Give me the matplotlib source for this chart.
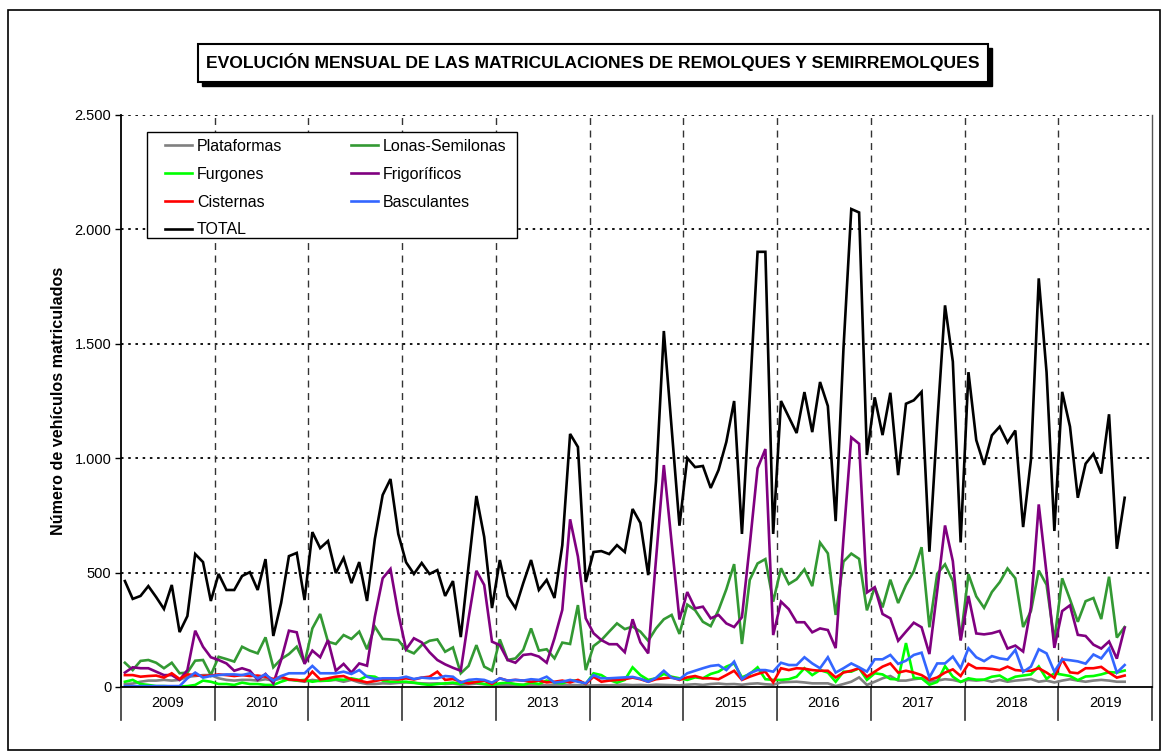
import numpy as np
import matplotlib
matplotlib.use("Agg")
import matplotlib.pyplot as plt
from matplotlib.patches import Rectangle

plt.rcParams['font.family'] = ['Liberation Sans', 'DejaVu Sans']

years = ['2009', '2010', '2011', '2012', '2013', '2014', '2015', '2016', '2017', '2018', '2019']

# monthly values, Jan 2009 .. Sep 2019
plataformas = [13, 15, 23, 28, 28, 31, 28, 31, 45, 48, 52, 52,
               38, 31, 28, 31, 31, 28, 34, 28, 38, 31, 28, 23,
               31, 26, 28, 31, 23, 31, 20, 13, 13, 16, 15, 18,
               20, 18, 16, 15, 16, 13, 15, 10, 12, 15, 12, 8,
               10, 8, 9, 10, 8, 9, 7, 8, 10, 9, 8, 6,
               7, 8, 7, 9, 10, 8, 9, 7, 10, 9, 8, 7,
               10, 12, 9, 13, 15, 12, 13, 10, 14, 16, 12, 10,
               20, 22, 23, 20, 16, 16, 16, 4, 13, 23, 42, 9,
               23, 38, 48, 28, 28, 34, 38, 23, 28, 34, 31, 23,
               31, 28, 31, 23, 31, 23, 28, 31, 35, 23, 28, 20,
               28, 34, 28, 23, 28, 31, 28, 23, 23]

lonas = [106, 74, 114, 118, 106, 82, 106, 60, 63, 115, 118, 52,
         132, 122, 111, 176, 159, 147, 217, 86, 122, 144, 176, 104,
         256, 319, 198, 188, 227, 210, 242, 165, 264, 210, 208, 205,
         162, 147, 183, 202, 208, 154, 173, 60, 92, 183, 89, 71,
         208, 118, 125, 162, 256, 159, 165, 125, 194, 188, 358, 74,
         179, 205, 242, 278, 253, 264, 242, 202, 256, 296, 315, 232,
         360, 336, 285, 266, 336, 427, 537, 188, 468, 540, 559, 373,
         519, 450, 471, 514, 441, 631, 584, 315, 548, 583, 560, 335,
         435, 348, 469, 367, 445, 506, 611, 261, 495, 536, 463, 208,
         493, 396, 346, 415, 458, 518, 475, 262, 332, 509, 447, 202,
         475, 383, 285, 375, 389, 297, 482, 216, 262]

furgones = [23, 31, 13, 9, 4, 4, 2, 2, 4, 9, 28, 23,
            13, 13, 9, 19, 13, 13, 9, 9, 23, 34, 28, 31,
            23, 28, 28, 34, 31, 38, 31, 48, 45, 28, 23, 23,
            23, 19, 13, 9, 13, 16, 19, 13, 23, 19, 13, 9,
            16, 19, 13, 9, 19, 13, 28, 19, 16, 28, 28, 13,
            60, 52, 31, 19, 31, 86, 52, 31, 38, 57, 45, 38,
            31, 42, 38, 57, 67, 89, 103, 42, 57, 86, 34, 31,
            31, 34, 45, 82, 52, 74, 63, 23, 67, 67, 82, 31,
            60, 55, 35, 33, 192, 40, 38, 10, 22, 91, 45, 22,
            38, 32, 32, 45, 50, 30, 45, 50, 55, 90, 36, 60,
            54, 48, 30, 46, 48, 55, 65, 63, 72]

frigorificos = [63, 86, 82, 82, 67, 52, 52, 31, 74, 246, 176, 130,
                118, 103, 71, 82, 71, 31, 57, 16, 118, 246, 239, 101,
                159, 130, 205, 71, 101, 63, 103, 93, 307, 475, 516, 322,
                165, 213, 195, 152, 118, 99, 84, 71, 300, 508, 446, 198,
                183, 118, 106, 140, 144, 133, 106, 213, 337, 733, 570, 300,
                235, 205, 187, 187, 152, 296, 195, 147, 560, 970, 630, 295,
                415, 344, 351, 300, 315, 278, 262, 305, 620, 956, 1040, 227,
                373, 340, 283, 283, 239, 256, 249, 170, 650, 1091, 1063, 413,
                436, 319, 300, 202, 242, 281, 261, 144, 420, 706, 550, 203,
                398, 234, 230, 235, 245, 168, 181, 155, 349, 798, 496, 171,
                332, 357, 228, 223, 185, 168, 199, 124, 259]

cisternas = [52, 52, 45, 48, 50, 41, 60, 35, 55, 52, 48, 50,
             55, 52, 48, 52, 48, 50, 45, 35, 45, 33, 31, 26,
             67, 33, 38, 45, 48, 33, 28, 20, 26, 33, 35, 33,
             38, 33, 41, 45, 67, 31, 35, 23, 16, 22, 28, 13,
             38, 28, 31, 28, 23, 28, 20, 23, 28, 20, 31, 13,
             45, 23, 28, 31, 34, 41, 34, 23, 34, 38, 42, 31,
             42, 48, 38, 38, 34, 52, 71, 31, 45, 57, 67, 20,
             82, 74, 82, 80, 74, 71, 71, 42, 63, 71, 82, 45,
             67, 89, 103, 63, 71, 63, 52, 31, 42, 63, 77, 48,
             101, 82, 82, 79, 74, 89, 74, 71, 71, 82, 63, 40,
             121, 64, 60, 82, 82, 88, 63, 41, 50]

basculantes = [4, 4, 4, 4, 4, 4, 4, 4, 38, 63, 41, 48,
               52, 55, 55, 52, 60, 38, 55, 28, 48, 60, 60, 60,
               92, 60, 60, 60, 67, 57, 74, 45, 35, 38, 38, 38,
               45, 35, 41, 38, 38, 48, 45, 19, 31, 34, 31, 19,
               38, 28, 31, 28, 34, 31, 45, 19, 23, 31, 23, 16,
               52, 38, 38, 40, 42, 44, 36, 23, 40, 71, 40, 34,
               60, 71, 82, 92, 96, 74, 111, 34, 60, 74, 74, 67,
               106, 96, 96, 130, 103, 82, 130, 63, 82, 103, 86, 67,
               121, 121, 140, 101, 115, 140, 150, 42, 103, 103, 133, 82,
               169, 130, 113, 135, 125, 120, 162, 66, 89, 165, 147, 67,
               121, 117, 112, 102, 142, 125, 169, 63, 96]

total = [463, 385, 398, 441, 393, 341, 446, 240, 310, 581, 546, 376,
         494, 424, 424, 485, 502, 424, 559, 223, 367, 572, 586, 380,
         677, 607, 638, 498, 564, 454, 546, 376, 647, 839, 909, 669,
         545, 494, 542, 494, 511, 398, 463, 218, 530, 835, 656, 345,
         555, 398, 345, 454, 555, 424, 468, 389, 620, 1106, 1049, 459,
         590, 594, 581, 620, 590, 778, 717, 489, 900, 1556, 1130, 705,
         1001, 961, 966, 870, 948, 1071, 1250, 669, 1270, 1902, 1902, 669,
         1250, 1180, 1110, 1289, 1114, 1333, 1228, 725, 1480, 2089, 2074, 1014,
         1266, 1101, 1286, 926, 1238, 1253, 1290, 591, 1150, 1668, 1422, 632,
         1376, 1079, 971, 1100, 1138, 1069, 1121, 699, 993, 1786, 1376, 682,
         1290, 1138, 827, 976, 1019, 933, 1192, 604, 827]

series = [
    ('Plataformas', plataformas, '#808080'),
    ('Lonas-Semilonas', lonas, '#339933'),
    ('Furgones', furgones, '#00ff00'),
    ('Frigoríficos', frigorificos, '#800080'),
    ('Cisternas', cisternas, '#ff0000'),
    ('Basculantes', basculantes, '#3366ff'),
    ('TOTAL', total, '#000000'),
]

W, H = 1163, 754
fig = plt.figure(figsize=(W / 100, H / 100), dpi=100)
ax = fig.add_axes([121 / W, 67 / H, 1031 / W, 572 / H])

x = np.arange(len(total))
handles = {}
for name, vals, col in series:
    h, = ax.plot(x, vals, color=col, lw=1.9, label=name, solid_joinstyle='miter')
    handles[name] = h

nmonths = 12 * len(years)
ax.set_xlim(-0.5, nmonths - 0.5)
ax.set_ylim(0, 2500)

# grid
for v in range(500, 2501, 500):
    ax.axhline(v, color='black', lw=1.3, ls=(0, (1.4, 2.6)), zorder=0)
for k in range(1, len(years)):
    ax.axvline(12 * k - 0.5, color='#333333', lw=1.0, ls=(0, (5, 4)), zorder=0)

ax.set_yticks(range(0, 2501, 500))
ax.set_yticklabels(['0', '500', '1.000', '1.500', '2.000', '2.500'], fontsize=10.5)
ax.tick_params(axis='y', length=4, width=1, direction='out', pad=3)
ax.set_xticks([])
ax.spines['top'].set_visible(False)
ax.spines['left'].set_linewidth(1.3)
ax.spines['bottom'].set_linewidth(1.3)
ax.spines['right'].set_linewidth(1.0)
ax.spines['right'].set_color('#555555')

# year category row
tr = ax.get_xaxis_transform()
for k, yname in enumerate(years):
    ax.text(12 * k + 5.5, -0.028, yname, transform=tr, ha='center', va='center', fontsize=10.5)
for k in range(len(years) + 1):
    ax.plot([12 * k - 0.5, 12 * k - 0.5], [0, -0.058], transform=tr, color='#333333',
            lw=1.2, clip_on=False)

ax.set_ylabel('Número de vehículos matriculados', fontsize=11.6, fontweight='bold', labelpad=6)

# legend (frame drawn separately)
order = ['Plataformas', 'Furgones', 'Cisternas', 'TOTAL', 'Lonas-Semilonas', 'Frigoríficos', 'Basculantes']
leg = fig.legend([handles[n] for n in order], order, ncol=2, loc='upper left',
                 bbox_to_anchor=(165 / W, 1 - 139 / H), bbox_transform=fig.transFigure,
                 fontsize=11.5, frameon=False, handlelength=1.7, handletextpad=0.3,
                 columnspacing=4.3, labelspacing=0.8, borderpad=0, borderaxespad=0)
fig.patches.append(Rectangle((147 / W, 1 - 238 / H), 370 / W, 106 / H,
                             transform=fig.transFigure, facecolor='white', edgecolor='black',
                             lw=1.0, zorder=2))
leg.set_zorder(5)

# title box with shadow
fig.patches.append(Rectangle((202 / W, (H - 86) / H), 790 / W, 38 / H,
                             transform=fig.transFigure, facecolor='black', edgecolor='black'))
fig.patches.append(Rectangle((198 / W, (H - 82) / H), 790 / W, 38 / H,
                             transform=fig.transFigure, facecolor='white', edgecolor='black', lw=1.5))
fig.text(593 / W, (H - 62) / H, 'EVOLUCIÓN MENSUAL DE LAS MATRICULACIONES DE REMOLQUES Y SEMIRREMOLQUES',
         ha='center', va='center', fontsize=12.6, fontweight='bold')

# outer frame
fig.patches.append(Rectangle((8 / W, 4 / H), 1152 / W, 740 / H,
                             transform=fig.transFigure, facecolor='none', edgecolor='black', lw=1.2))

fig.savefig('out.png', dpi=100)
